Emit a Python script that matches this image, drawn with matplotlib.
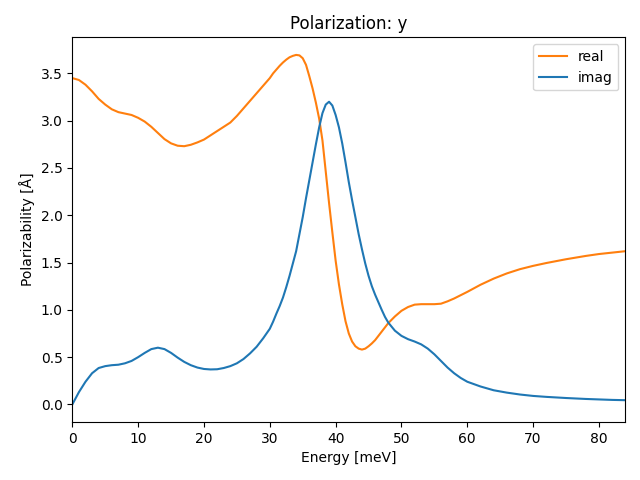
import matplotlib
matplotlib.use("Agg")
import matplotlib.pyplot as plt

# Energy grid (meV), finer around the resonance
energy = ([float(e) for e in range(0, 30)]
          + [30 + 0.5 * k for k in range(36)]
          + [48.0, 49, 50, 51, 52, 53, 54, 55, 56, 57, 58, 59, 60,
             62, 64, 66, 68, 70, 72, 75, 78, 80, 82, 84])

# Real part of the polarizability (Å)
real = [3.45, 3.43, 3.38, 3.31, 3.23, 3.17, 3.12, 3.09, 3.075, 3.06,
        3.03, 2.99, 2.935, 2.87, 2.805, 2.76, 2.735, 2.73, 2.745, 2.77,
        2.80, 2.845, 2.89, 2.935, 2.98, 3.05, 3.13, 3.21, 3.29, 3.37,
        # 30 .. 47.5 (step 0.5)
        3.45, 3.50, 3.54, 3.58, 3.615, 3.645, 3.67, 3.685, 3.695, 3.69,
        3.66, 3.59, 3.47, 3.34, 3.19, 3.02, 2.79, 2.46, 2.13, 1.82,
        1.52, 1.27, 1.06, 0.88, 0.75, 0.665, 0.615, 0.59, 0.58, 0.59,
        0.615, 0.645, 0.68, 0.725, 0.77, 0.815,
        # 48 .. 84
        0.86, 0.93, 0.99, 1.03, 1.055, 1.06, 1.06, 1.06, 1.065, 1.09,
        1.12, 1.155, 1.19, 1.265, 1.33, 1.385, 1.43, 1.465, 1.495, 1.535,
        1.57, 1.59, 1.605, 1.62]

# Imaginary part of the polarizability (Å)
imag = [0.00, 0.13, 0.24, 0.33, 0.385, 0.405, 0.415, 0.42, 0.435, 0.46,
        0.50, 0.545, 0.585, 0.60, 0.585, 0.545, 0.495, 0.45, 0.415, 0.39,
        0.375, 0.37, 0.372, 0.385, 0.405, 0.435, 0.48, 0.54, 0.61, 0.70,
        # 30 .. 47.5 (step 0.5)
        0.80, 0.875, 0.96, 1.04, 1.13, 1.24, 1.36, 1.49, 1.62, 1.80,
        1.98, 2.18, 2.37, 2.56, 2.75, 2.93, 3.08, 3.17, 3.20, 3.16,
        3.06, 2.93, 2.76, 2.56, 2.35, 2.16, 1.98, 1.80, 1.64, 1.49,
        1.36, 1.25, 1.16, 1.08, 1.00, 0.925,
        # 48 .. 84
        0.865, 0.78, 0.725, 0.69, 0.665, 0.635, 0.59, 0.53, 0.46, 0.39,
        0.33, 0.28, 0.24, 0.19, 0.15, 0.125, 0.105, 0.09, 0.08, 0.068,
        0.058, 0.053, 0.048, 0.045]

fig, ax = plt.subplots(figsize=(6.4, 4.8), dpi=100)
fig.subplots_adjust(left=0.113, right=0.977, top=0.922, bottom=0.121)

ax.plot(energy, real, color="C1", label="real")
ax.plot(energy, imag, color="C0", label="imag")
ax.set_xlim(0, 84)
ax.set_title("Polarization: y")
ax.set_xlabel("Energy [meV]")
ax.set_ylabel("Polarizability [Å]")
ax.legend(loc="upper right")

fig.savefig("out.png", dpi=100)
